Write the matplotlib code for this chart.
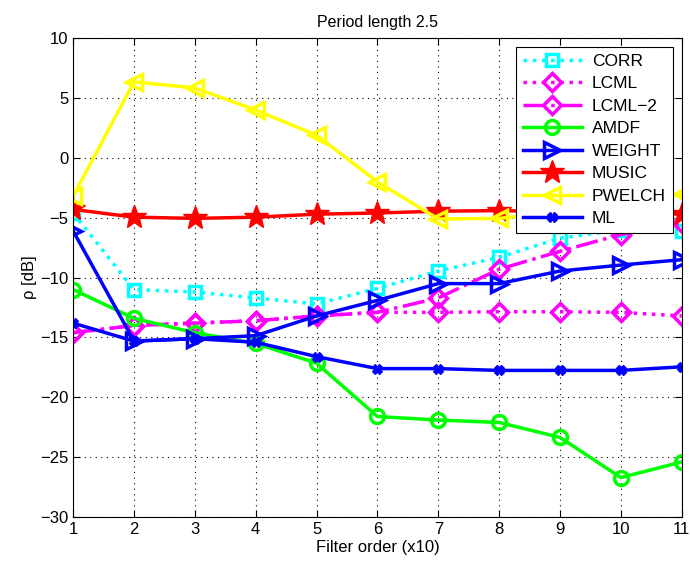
import matplotlib
matplotlib.use('Agg')
import matplotlib.pyplot as plt
import numpy as np

plt.rcParams['font.family'] = ['Liberation Sans', 'DejaVu Sans']

# filter order (x10)
order = [1, 2, 3, 4, 5, 6, 7, 8, 9, 10, 11]

# rho [dB] per estimator
corr = [-4.6, -11.0, -11.2, -11.7, -12.2, -10.9, -9.45, -8.3, -6.7, -6.0, -6.1]
lcml = [-14.6, -14.0, -13.8, -13.6, -13.2, -12.9, -12.9, -12.85, -12.85, -12.9, -13.2]
lcml2 = [-14.6, -14.0, -13.8, -13.6, -13.2, -12.9, -11.7, -9.3, -7.8, -6.4, -5.45]
amdf = [-11.0, -13.4, -14.6, -15.5, -17.15, -21.6, -21.9, -22.1, -23.35, -26.7, -25.4]
weight = [-6.1, -15.3, -15.1, -14.85, -13.2, -11.9, -10.5, -10.5, -9.45, -8.95, -8.5]
music = [-4.3, -4.95, -5.05, -4.95, -4.7, -4.6, -4.45, -4.4, -4.5, -4.55, -4.7]
pwelch = [-3.2, 6.35, 5.85, 4.0, 1.9, -2.0, -5.1, -5.05, -4.5, -3.8, -3.0]
ml = [-13.8, -15.3, -15.1, -15.4, -16.6, -17.6, -17.6, -17.75, -17.75, -17.75, -17.45]

fig = plt.figure(figsize=(6.9, 5.62), dpi=100)
ax = fig.add_axes([0.106, 0.080, 0.882, 0.852])

lw = 2.5
ax.plot(order, corr, ':', color=(0, 1, 1), lw=lw, marker='s', ms=9, mfc='none', mew=2.5, label='CORR')
ax.plot(order, lcml, ':', color=(1, 0, 1), lw=lw, marker='D', ms=9, mfc='none', mew=2.5, label='LCML')
ax.plot(order, lcml2, '-.', color=(1, 0, 1), lw=lw, marker='D', ms=9, mfc='none', mew=2.5, label='LCML\u22122')
ax.plot(order, amdf, '-', color=(0, 1, 0), lw=lw, marker='o', ms=10, mfc='none', mew=2.5, label='AMDF')
ax.plot(order, weight, '-', color=(0, 0, 1), lw=lw, marker='>', ms=12, mfc='none', mew=2.5, label='WEIGHT')
ax.plot(order, music, '-', color=(1, 0, 0), lw=lw, marker='*', ms=18, mfc=(1, 0, 0), mew=1, label='MUSIC')
ax.plot(order, pwelch, '-', color=(1, 1, 0), lw=lw, marker='<', ms=12, mfc='none', mew=2.5, label='PWELCH')
ax.plot(order, ml, '-', color=(0, 0, 1), lw=lw, marker='X', ms=7, mew=1, label='ML')

ax.set_xlim(1, 11)
ax.set_ylim(-30, 10)
ax.set_xticks(order)
ax.set_yticks(np.arange(-30, 11, 5))
ax.grid(True, color='black', linestyle=(0, (1, 4)), linewidth=0.8)
ax.tick_params(direction='in', top=True, right=True, labelsize=12, length=5)
for s in ax.spines.values():
    s.set_linewidth(0.8)

ax.set_title('Period length 2.5', fontsize=11.5, pad=8)
ax.set_xlabel('Filter order (x10)', fontsize=12, labelpad=2)
ax.set_ylabel('\u03c1 [dB]', fontsize=12, labelpad=2)

leg = ax.legend(loc='upper right', fontsize=12.5, handlelength=3.4, fancybox=False,
                framealpha=1, edgecolor='black', borderaxespad=0.5,
                labelspacing=0.42, handletextpad=0.6, borderpad=0.4)
leg.get_frame().set_linewidth(0.8)

fig.savefig('out.png', dpi=100)
